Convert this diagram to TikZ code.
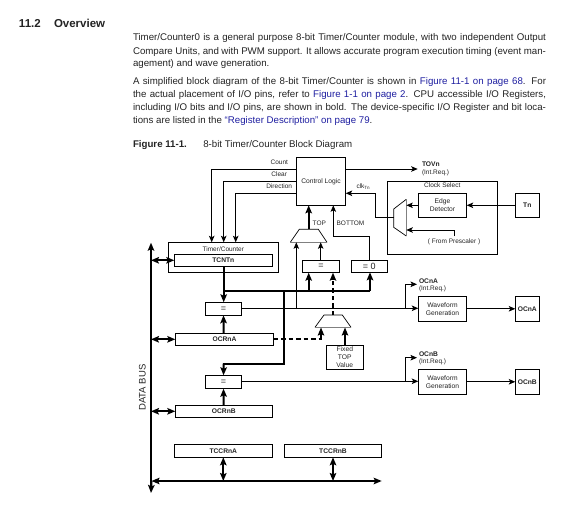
\documentclass[tikz,border=0pt]{standalone}
\usepackage{fontspec}
\setmainfont{Liberation Sans}
\usetikzlibrary{arrows.meta}
\definecolor{linkblue}{RGB}{30,30,160}
\definecolor{inktext}{RGB}{35,35,35}
\tikzset{
  tip/.tip={Stealth[length=6.5pt,width=5.5pt,inset=1.5pt]},
  box/.style={draw=black,line width=0.8pt,inner sep=0pt,outer sep=0pt,align=center,font=\fontsize{6.7}{8}\selectfont,text=inktext},
  regbox/.style={box,font=\fontsize{6.7}{8}\selectfont\bfseries},
  eqbox/.style={box,font=\fontsize{9}{10}\selectfont},
  thin wire/.style={draw=black,line width=0.8pt},
  thin arrow/.style={thin wire,-{tip}},
  thick wire/.style={draw=black,line width=1.9pt},
  thick arrow/.style={thick wire,-{Stealth[length=8pt,width=6.5pt,inset=1.5pt]}},
  thick both/.style={thick wire,{Stealth[length=8pt,width=6.5pt,inset=1.5pt]}-{Stealth[length=8pt,width=6.5pt,inset=1.5pt]}},
  dash wire/.style={thick wire,dash pattern=on 4.5pt off 3pt},
  mux/.style={draw=black,line width=0.7pt},
  muxedge/.style={draw=gray,line width=1.4pt},
  lab/.style={inner sep=0pt,outer sep=0pt,font=\fontsize{6.5}{8}\selectfont,text=inktext},
  blab/.style={lab,font=\fontsize{6.7}{8}\selectfont\bfseries},
  para/.style={inner sep=0pt,outer sep=0pt,anchor=base west,font=\fontsize{9.7}{11}\selectfont,text=inktext},
}
\newcommand{\bx}[7][box]{\node[#1,minimum width={(#5-#3)*1pt},minimum height={(#6-#4)*1pt}] (#2) at ({(#3+#5)/2},{(#4+#6)/2}) {#7};}
\newcommand{\jline}[1]{\makebox[413pt][s]{#1}}
\begin{document}
\begin{tikzpicture}[x=1pt,y=-1pt]
\useasboundingbox (0,0) rectangle (568,508);
% page text
\node[para,font=\fontsize{11.5}{13}\selectfont\bfseries] (hnum) at (19,27.3) {11.2};
\node[para,font=\fontsize{11.5}{13}\selectfont\bfseries] (htitle) at (54,27.3) {Overview};
\node[para] (p1) at (133,41) {\jline{Timer/Counter0 is a general purpose 8-bit Timer/Counter module, with two independent Output}};
\node[para] (p2) at (133,54.3) {\jline{Compare Units, and with PWM support. It allows accurate program execution timing (event man-}};
\node[para] (p3) at (133,67) {agement) and wave generation.};
\node[para] (p4) at (133,85) {\jline{A simplified block diagram of the 8-bit Timer/Counter is shown in \textcolor{linkblue}{Figure 11-1 on page 68}. For}};
\node[para] (p5) at (133,98) {\jline{the actual placement of I/O pins, refer to \textcolor{linkblue}{Figure 1-1 on page 2}. CPU accessible I/O Registers,}};
\node[para] (p6) at (133,111) {\jline{including I/O bits and I/O pins, are shown in bold. The device-specific I/O Register and bit loca-}};
\node[para] (p7) at (133,123.3) {tions are listed in the \textcolor{linkblue}{``Register Description'' on page 79}.};
\node[para,font=\fontsize{9.7}{11}\selectfont\bfseries] (figa) at (133,148) {Figure 11-1.};
\node[para] (figb) at (203.3,148) {8-bit Timer/Counter Block Diagram};
% outer boxes
\bx{timer}{168.3}{242.3}{278.3}{272.3}{}
\bx{clocksel}{387.3}{181.7}{497.3}{254.3}{}
\bx[box,fill=white]{tcnt}{174.3}{254.3}{272.3}{266.3}{\textbf{TCNTn}}
\bx{ctrl}{296.3}{157.3}{345.7}{205.3}{Control Logic}
\bx{edge}{418.3}{193.3}{466.7}{217.3}{Edge\\Detector}
\bx{tn}{515.3}{193.3}{539.3}{217.3}{\textbf{Tn}}
\bx[eqbox]{eqt}{302.3}{260.3}{339.7}{272.7}{=}
\bx[eqbox]{eqz}{351.3}{260.3}{387.3}{272.3}{= 0}
\bx[eqbox]{eqa}{205.3}{302.3}{241.7}{315.3}{=}
\bx[eqbox]{eqb}{205.3}{375.3}{241.7}{388.7}{=}
\bx{wfa}{418.3}{296.3}{466.7}{321.3}{Waveform\\Generation}
\bx{wfb}{418.3}{369.3}{466.7}{394.3}{Waveform\\Generation}
\bx[regbox]{oca}{515.3}{296.3}{539.3}{321.3}{OCnA}
\bx[regbox]{ocb}{515.3}{369.3}{539.3}{394.3}{OCnB}
\bx[regbox]{ocra}{175.3}{333.3}{273.7}{345.3}{OCRnA}
\bx[regbox]{ocrb}{175.3}{405.3}{272.3}{417.3}{OCRnB}
\bx[regbox]{tcca}{174.3}{444.3}{272.3}{457.3}{TCCRnA}
\bx[regbox]{tccb}{284.3}{444.3}{381.7}{457.3}{TCCRnB}
\bx{fixed}{326.3}{345.3}{363.3}{369.3}{Fixed\\TOP\\Value}
% muxes
\coordinate (m1tl) at (299.3,229.3); \coordinate (m1tr) at (318.3,229.3);
\coordinate (m1bl) at (290.3,242.3); \coordinate (m1br) at (327,242.3);
\coordinate (m1t) at (308.7,229.3);
\draw[mux] (m1bl) -- (m1tl) -- (m1tr) -- (m1br);
\draw[muxedge] (m1bl) -- (m1br);
\coordinate (m2tl) at (324,315); \coordinate (m2tr) at (342.3,315);
\coordinate (m2bl) at (315,327.3); \coordinate (m2br) at (351,327.3);
\draw[mux] (m2bl) -- (m2tl) -- (m2tr) -- (m2br);
\draw[muxedge] (m2bl) -- (m2br);
\coordinate (m3tr) at (406.3,199.3); \coordinate (m3br) at (406.3,236);
\coordinate (m3tl) at (393.7,209); \coordinate (m3bl) at (393.7,227.3);
\draw[mux] (m3tr) -- (m3tl) -- (m3bl) -- (m3br);
\draw[muxedge] (m3tr) -- (m3br);
% data bus
\coordinate (busTop) at (151,242.7);
\coordinate (busBot) at (151,493);
\coordinate (busRight) at (381.7,481);
\coordinate (busCorner) at (151.5,481);
\draw[thick arrow] (busBot |- 0,486) -- (busTop);
\draw[thick arrow] (busCorner) -- (busBot);
\draw[thick both] (busCorner) -- (busRight);
\draw[thick both] (busTop |- tcnt.west) -- (tcnt.west);
\draw[thick both] (busTop |- ocra.west) -- (ocra.west);
\draw[thick both] (busTop |- ocrb.west) -- (ocrb.west);
\draw[thick both] (tcca.south) -- (tcca.south |- busRight);
\draw[thick both] (tccb.south -| 333,0) -- (333,481);
% control lines
\draw[thin arrow] (ctrl.west |- 0,169.3) -| (timer.north -| 211.7,0);
\draw[thin arrow] (ctrl.west |- 0,181.3) -| (timer.north -| 223.7,0);
\draw[thin arrow] (ctrl.west |- 0,193.3) -| (timer.north -| 235.7,0);
\draw[thin arrow] (ctrl.east |- 0,169) -- (417.7,169);
\draw[thin arrow] (m3tl |- 0,217.3) -- (375.7,217.3) |- (ctrl.east |- 0,193.3);
\draw[thin arrow] (edge.west) -- (m3tr |- edge.west);
\draw[thin arrow] (454.7,236) -- (454.7,230) -- (m3tr |- 0,230);
\draw[thin arrow] (tn.west) -- (edge.east);
\draw[thick arrow] (m1t) -- (m1t |- ctrl.south);
\draw[thin arrow] (eqz.north -| 369.7,0) -- (369.7,236.7) -- (333.3,236.7) -- (333.3,205.3);
\draw[thin arrow] (eqt.north -| 320.7,0) -- (320.7,242.3);
\draw[thin arrow] (296.3,308.3) -- (296.3,242.3);
% timer bus
\coordinate (tb) at (223.7,291);
\coordinate (tbr) at (370,291);
\draw[thick arrow] (tb |- tcnt.south) -- (tb |- eqa.north);
\draw[thick wire] (tb) -- (tbr);
\draw[thick arrow] (tbr) -- (tbr |- eqz.south);
\draw[thick arrow] (308.7,291) -- (308.7,272.7);
\draw[thick arrow] (284,291) -- (284,364) -- (223.7,364) -- (eqb.north);
\draw[thick arrow] (ocra.north -| 223.7,0) -- (eqa.south);
\draw[thick arrow] (ocrb.north -| 223.7,0) -- (eqb.south);
% dashed
\draw[dash wire] (333,315) -- (333,278);
\draw[thick arrow] (333,279) -- (333,272.7);
\draw[dash wire] (ocra.east |- 0,338.7) -- (321,338.7);
\draw[thick wire] (321,339.6) -- (321,334);
\draw[thick arrow] (321,335) -- (321,327.5);
\draw[thick arrow] (345,345.3) -- (345,327.5);
% compare outputs
\coordinate (ja) at (405.3,308.3);
\coordinate (jb) at (405.3,381.3);
\draw[thin arrow] (eqa.east |- ja) -- (wfa.west |- ja);
\draw[thin arrow] (eqb.east |- jb) -- (wfb.west |- jb);
\draw[thin arrow] (ja) |- (417,284.3);
\draw[thin arrow] (jb) |- (417,357.7);
\draw[thin arrow] (wfa.east) -- (oca.west);
\draw[thin arrow] (wfb.east) -- (ocb.west);
% labels
\node[lab,anchor=east] (lcount) at (288,162.5) {Count};
\node[lab,anchor=east] (lclear) at (287,174.5) {Clear};
\node[lab,anchor=east] (ldir) at (292,186.5) {Direction};
\node[lab] (ltimer) at (223.3,249.5) {Timer/Counter};
\node[lab] (ltop) at (319.3,223.5) {TOP};
\node[lab] (lbot) at (350.5,223.5) {BOTTOM};
\node[lab,anchor=west] (lclk) at (356.5,186.5) {clk$_{\mathrm{Tn}}$};
\node[blab,anchor=west] (ltov) at (422,164.5) {TOVn};
\node[lab,anchor=west] (lreq0) at (422,172.7) {(Int.Req.)};
\node[lab] (lcs) at (442.3,185.5) {Clock Select};
\node[lab] (lpre) at (454,241.7) {( From Prescaler )};
\node[blab,anchor=west] (loa) at (419,280.7) {OCnA};
\node[lab,anchor=west] (lreqa) at (419,288.7) {(Int.Req.)};
\node[blab,anchor=west] (lob) at (419,353.7) {OCnB};
\node[lab,anchor=west] (lreqb) at (419,362) {(Int.Req.)};
\node[lab,rotate=90,font=\fontsize{9.5}{11}\selectfont] (lbus) at (142.3,387.7) {DATA BUS};
\end{tikzpicture}
\end{document}
